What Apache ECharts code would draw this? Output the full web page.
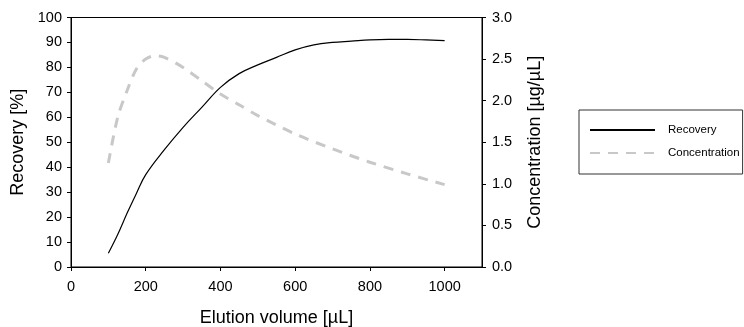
<!DOCTYPE html>
<html>
<head>
<meta charset="utf-8">
<script src="https://cdn.jsdelivr.net/npm/echarts@6/dist/echarts.min.js"></script>
<style>
  html, body { margin: 0; padding: 0; background: #fff; }
  #chart { width: 744px; height: 327px; }
</style>
</head>
<body>
<div id="chart"></div>
<script>
// elution volume (µL) vs recovery (%)
var recoveryX = [100, 125, 150, 175, 200, 250, 300, 350, 400, 450, 500, 550, 600, 650, 700, 750, 800, 850, 900, 950, 1000];
var recoveryY = [5.5, 13, 21.5, 29.5, 37, 47, 56, 64, 72, 77.5, 81, 84, 87, 89, 90, 90.5, 91, 91.2, 91.2, 91, 90.7];

// elution volume (µL) vs concentration (µg/µL)
var concX = [100, 125, 150, 175, 200, 225, 250, 300, 350, 400, 450, 500, 600, 700, 800, 900, 1000];
var concY = [1.25, 1.8, 2.12, 2.38, 2.5, 2.54, 2.52, 2.4, 2.24, 2.08, 1.95, 1.82, 1.6, 1.42, 1.26, 1.12, 0.99];

var seriesNames = ["Recovery", "Concentration"];

var chart = echarts.init(document.getElementById("chart"));
var font = "Liberation Sans, Arial, sans-serif";

function pairs(xs, ys) {
  return xs.map(function (x, i) { return [x, ys[i]]; });
}

chart.setOption({
  animation: false,
  textStyle: { fontFamily: font },
  grid: {
    left: 71, right: 262, top: 17.5, bottom: 60,
    outerBoundsMode: "none",
    show: true, borderColor: "#000", borderWidth: 1
  },
  legend: {
    left: 579,
    top: 110,
    orient: "vertical",
    padding: [14, 3, 15, 10],
    itemGap: 11,
    itemWidth: 65,
    itemHeight: 14,
    borderColor: "#333",
    borderWidth: 1,
    itemStyle: { opacity: 0 },
    textStyle: { fontSize: 11.5, color: "#000", fontFamily: font, padding: [0, 0, 0, 8] },
    data: seriesNames
  },
  xAxis: {
    type: "value",
    min: 0,
    max: 1100,
    interval: 200,
    name: "Elution volume [µL]",
    nameLocation: "middle",
    nameGap: 42,
    nameTextStyle: { fontSize: 18, color: "#000" },
    axisLine: { lineStyle: { color: "#000" } },
    axisTick: { show: true, length: 4, lineStyle: { color: "#000" } },
    axisLabel: { fontSize: 14.5, color: "#000", margin: 12, showMaxLabel: false, formatter: function (v) { return String(v); } },
    splitLine: { show: false }
  },
  yAxis: [
    {
      type: "value",
      min: 0,
      max: 100,
      interval: 10,
      name: "Recovery [%]",
      nameLocation: "middle",
      nameGap: 44,
      nameTextStyle: { fontSize: 18, color: "#000" },
      axisLine: { show: true, lineStyle: { color: "#000" } },
      axisTick: { show: true, length: 4, lineStyle: { color: "#000" } },
      axisLabel: { fontSize: 14.5, color: "#000", margin: 9 },
      splitLine: { show: false }
    },
    {
      type: "value",
      min: 0,
      max: 3,
      interval: 0.5,
      position: "right",
      name: "Concentration [µg/µL]",
      nameLocation: "middle",
      nameGap: 44,
      nameRotate: 90,
      nameTextStyle: { fontSize: 18, color: "#000" },
      axisLine: { show: true, lineStyle: { color: "#000" } },
      axisTick: { show: true, length: 4, lineStyle: { color: "#000" } },
      axisLabel: { fontSize: 14.5, color: "#000", margin: 10, formatter: function (v) { return v.toFixed(1); } },
      splitLine: { show: false }
    }
  ],
  series: [
    {
      name: seriesNames[0],
      type: "line",
      yAxisIndex: 0,
      smooth: 0.4,
      showSymbol: false,
      symbol: "none",
      itemStyle: { color: "#000" },
      lineStyle: { color: "#000", width: 1.2 },
      data: pairs(recoveryX, recoveryY)
    },
    {
      name: seriesNames[1],
      type: "line",
      yAxisIndex: 1,
      smooth: 0.3,
      showSymbol: false,
      symbol: "none",
      itemStyle: { color: "#c8c8c8" },
      lineStyle: { color: "#c8c8c8", width: 3, type: [10, 8] },
      data: pairs(concX, concY)
    }
  ]
});
</script>
</body>
</html>
